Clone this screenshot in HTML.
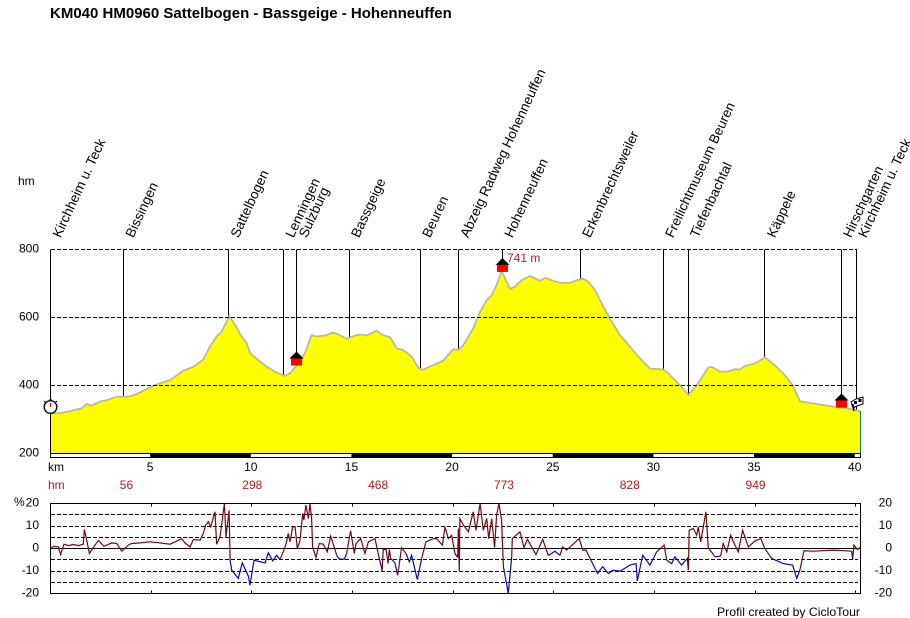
<!DOCTYPE html>
<html lang="de">
<head>
<meta charset="utf-8">
<title>KM040 HM0960 Sattelbogen - Bassgeige - Hohenneuffen</title>
<style>
html,body{margin:0;padding:0;background:#fff;}
svg{display:block;font-family:"Liberation Sans",Arial,sans-serif;}
text{fill:#000;font-size:12px;}
.red{fill:#b01c1c;}
</style>
</head>
<body>
<svg id="chart" xmlns="http://www.w3.org/2000/svg" width="910" height="618" viewBox="0 0 910 618">
  <rect x="0" y="0" width="910" height="618" fill="#fff"/>
  <text x="50" y="18" style="font-size:15px;font-weight:bold">KM040 HM0960 Sattelbogen - Bassgeige - Hohenneuffen</text>
  <text x="18" y="185">hm</text>
  <text x="48" y="471">km</text>
  <text class="red" x="48" y="489">hm</text>
  <text x="14" y="506">%</text>
  <text x="860" y="616" text-anchor="end" style="font-size:12.25px">Profil created by CicloTour</text>
  <g id="elev"></g>
  <g id="grad"></g>
</svg>
<script>
// ---- data ----
const elevKm = [0,0.55,1.05,1.55,1.80,2.04,2.46,2.87,3.29,3.87,4.28,4.78,5.27,5.94,6.60,7.10,7.59,7.92,8.25,8.50,8.88,9.25,9.45,9.75,9.91,10.32,10.74,11.23,11.65,11.90,12.15,12.39,12.64,12.97,13.22,13.64,14.05,14.38,14.71,15.13,15.46,15.71,16.20,16.53,16.87,17.20,17.53,17.94,18.27,18.47,19.02,19.51,20.01,20.26,20.51,21.00,21.34,21.67,21.92,22.16,22.41,22.58,22.83,23.07,23.41,23.82,24.32,24.57,24.98,25.31,25.81,26.14,26.47,26.72,27.05,27.30,27.79,28.29,28.79,29.20,29.78,30.44,30.69,31.27,31.69,32.10,32.68,32.84,33.26,33.67,34.00,34.25,34.50,35.00,35.49,35.91,36.40,36.87,37.23,37.90,38.89,39.56,40.21];
const elevM = [318,319,326,333,346,341,353,358,367,367,375,390,403,416,444,455,477,514,544,558,604,571,548,524,496,475,455,438,428,436,453,470,495,548,544,547,556,548,537,547,550,547,561,548,542,509,504,485,452,446,460,473,507,504,519,568,617,651,666,696,738,715,684,691,710,722,708,717,708,702,702,710,714,705,681,651,597,548,514,485,450,447,436,401,372,401,453,455,441,441,448,447,458,465,483,463,436,401,354,347,338,333,325];

const gradKm = [0.01,0.14,0.39,0.50,0.67,0.89,1.13,1.38,1.63,1.68,1.76,1.93,2.09,2.38,2.66,3.04,3.29,3.54,3.87,4.03,4.45,4.94,5.44,5.94,6.52,6.68,6.93,7.10,7.43,7.51,7.59,7.71,7.84,7.96,8.17,8.25,8.42,8.50,8.64,8.72,8.87,8.92,9.00,9.33,9.53,9.83,9.91,10.11,10.66,10.82,11.04,11.23,11.40,11.60,11.73,11.81,11.90,12.03,12.15,12.26,12.39,12.53,12.59,12.69,12.81,12.89,12.97,13.02,13.19,13.35,13.55,13.75,13.92,14.22,14.35,14.60,14.71,14.91,15.09,15.18,15.41,15.62,15.79,16.12,16.28,16.48,16.53,16.67,16.77,16.83,16.90,17.11,17.25,17.44,17.66,17.83,17.94,18.22,18.44,18.65,19.02,19.18,19.47,19.60,19.76,19.93,20.09,20.23,20.26,20.31,20.34,20.51,20.76,21.00,21.14,21.34,21.50,21.67,21.77,21.92,22.06,22.16,22.28,22.41,22.50,22.74,22.91,22.94,23.32,23.52,23.69,24.12,24.45,24.73,25.06,25.31,25.44,25.64,26.27,26.44,26.60,26.80,27.18,27.30,27.43,27.71,27.96,28.29,28.79,29.09,29.15,29.42,29.78,30.11,30.48,30.61,30.86,31.02,31.35,31.64,31.69,31.73,31.93,32.10,32.18,32.30,32.43,32.56,32.68,33.01,33.29,33.42,33.59,33.79,33.92,34.17,34.38,34.67,35.00,35.28,35.49,35.82,36.40,36.87,37.07,37.23,37.43,37.90,38.89,39.80,39.85,39.91,40.08,40.21];
const gradPct = [0,1.0,0.7,-2.7,1.9,1.3,1.8,1.3,1.9,8.4,5.5,-2.2,0,3.6,1.0,2.5,2.2,-1.2,1.5,2.2,2.5,3.0,2.5,1.9,4.4,2.5,0.7,4.0,3.7,5.2,6.7,10.4,11.9,9.6,16.3,1.9,5.2,10.4,20,5.2,17.0,-5.2,-9.6,-13.3,-6.4,-12.3,-16.3,-5.2,-6.4,-1.9,-5.5,-3.0,-4.9,-0.7,3.0,6.7,3.0,9.6,9.6,0,3.3,15.6,12.6,19.3,13.3,20,13.3,0.7,-4.0,2.2,1.9,-1.5,5.5,-3.0,-4.7,-4.7,-2.2,7.9,-2.2,2.2,4.4,-2.2,3.0,4.4,-2.2,-9.9,-0.4,-0.4,-6.7,-0.4,-4.4,-6.4,-11.9,0.4,-2.2,-5.9,-3.0,-13.8,-4.4,3.0,4.4,4.4,1.5,9.6,4.4,5.9,-2.2,-4.0,8.9,-9.9,13.3,10.4,7.4,16.3,8.1,20,8.1,13.3,4.4,13.3,0.4,14.8,20,12.6,-8.1,-20,-3.7,4.4,7.4,0.4,4.1,-2.7,4.1,-3.1,-1.2,-3.0,0.7,-0.7,4.4,-0.7,-0.7,-4.4,-11.1,-9.6,-8.1,-11.1,-9.6,-10.1,-7.4,-6.7,-14.4,-3.0,-7.4,-1.5,1.5,-5.2,-6.7,-3.7,-7.4,-4.4,-9.6,8.1,8.9,5.9,9.6,3.0,9.6,16.3,0.4,-3.7,-3.4,2.2,-1.5,5.9,3.0,-1.5,8.1,0.7,3.4,4.4,0,-4.4,-6.7,-7.4,-13.3,-9.6,-1.0,-1.2,-0.7,-1.2,-4.9,1.5,-0.4,0.4];

const waypointNames = ["Kirchheim u. Teck","Bissingen","Sattelbogen","Lenningen","Sulzburg","Bassgeige","Beuren","Abzeig Radweg Hohenneuffen","Hohenneuffen","Erkenbrechtsweiler","Freilichtmuseum Beuren","Tiefenbachtal","Käppele","Hirschgarten","Kirchheim u. Teck"];
const waypointKm = [0,3.62,8.84,11.57,12.23,14.83,18.36,20.25,22.44,26.31,30.43,31.67,35.49,39.27,40.02];
const hutKm = [12.23,22.44,39.27];
const elevTicks = [200,400,600,800];
const elevGridTicks = [400,600,800];
const kmTicks = [5,10,15,20,25,30,35,40];
const climbKm = [3.75,10,16.25,22.5,28.75,35];
const climbValues = [56,298,468,773,828,949];
const gradLabelTicks = [20,10,0,-10,-20];
const gradGridTicks = [15,10,5,-5,-10,-15];
const peakLabel = "741 m";
const totalKm = 40.2;

// ---- axis functions ----
const xOf = km => 50.5 + km * 20.13;
const yOf = m => 249.5 + (800 - m) * 0.34;
const gyOf = p => 548.5 - p * 2.25;
const crisp = v => Math.floor(v) + 0.5;
const plotRight = crisp(xOf(totalKm) + 0.5);

const NS = "http://www.w3.org/2000/svg";
function mk(parent, tag, attrs, txt) {
  const el = document.createElementNS(NS, tag);
  for (const k in attrs) el.setAttribute(k, attrs[k]);
  if (txt !== undefined) el.textContent = txt;
  parent.appendChild(el);
  return el;
}
function elevAt(km) {
  for (let i = 1; i < elevKm.length; i++) {
    if (km <= elevKm[i]) {
      const t = (km - elevKm[i-1]) / (elevKm[i] - elevKm[i-1]);
      return elevM[i-1] + t * (elevM[i] - elevM[i-1]);
    }
  }
  return elevM[elevM.length - 1];
}
const elevG = document.getElementById("elev");
const gradG = document.getElementById("grad");
const base = 453.5;

// waypoint lines (under the profile)
waypointKm.forEach((km, i) => {
  const isHut = hutKm.includes(km);
  const bottom = i === 0 ? base : (isHut ? yOf(elevAt(km)) - 12 : yOf(elevAt(km)));
  const l = mk(elevG, "line", {x1: crisp(xOf(km)), x2: crisp(xOf(km)), y1: 249.5, y2: bottom, stroke: "#000", "stroke-width": 1});
  
  
  const t = mk(elevG, "text", {transform: `translate(${xOf(km) + 10},238.5) rotate(-65)`, style: "font-size:13.6px"}, waypointNames[i]);
  
  
});

// profile area
const pts = elevKm.map((k, i) => `${xOf(k).toFixed(1)},${yOf(elevM[i]).toFixed(1)}`);
const area = mk(elevG, "polygon", {points: `${xOf(elevKm[0])},${base} ${pts.join(" ")} ${plotRight},${yOf(elevM[elevM.length-1]).toFixed(1)} ${plotRight},${base}`, fill: "#ffff00"});


const outline = mk(elevG, "polyline", {points: pts.join(" "), fill: "none", stroke: "#b6b6b6", "stroke-width": 1.8});



const leftAxis = mk(elevG, "line", {x1: 50.5, x2: 50.5, y1: 249.5, y2: base, stroke: "#000"});


const endEdge = mk(elevG, "line", {x1: plotRight, x2: plotRight, y1: yOf(elevM[elevM.length-1]), y2: base, stroke: "#0a7a6a"});



// elevation grid
elevGridTicks.forEach(m => {
  const g = mk(elevG, "line", {x1: 51, x2: 857, y1: yOf(m), y2: yOf(m), stroke: "#000", "stroke-dasharray": "4 2"});
  
  
});
elevTicks.forEach(m => {
  const t = mk(elevG, "text", {x: 39, y: yOf(m) + 3, "text-anchor": "end"}, String(m));
  
  
});

// km scale bar
const bar = mk(elevG, "rect", {x: 50.5, y: base, width: plotRight - 50.5, height: 4, fill: "#fff", stroke: "#000"});


kmTicks.forEach((k, i) => {
  if (i % 2 === 0) {
    const s = mk(elevG, "rect", {x: xOf(k) - 1, y: base, width: xOf(kmTicks[i+1]) - xOf(k), height: 4, fill: "#000"});
    
    
  }
  const t = mk(elevG, "text", {x: xOf(k) - 1, y: 471, "text-anchor": "middle"}, String(k));
  
  
});

// cumulative climb row
climbValues.forEach((v, i) => {
  const t = mk(elevG, "text", {x: xOf(climbKm[i]) + 0.5, y: 489, "text-anchor": "middle", class: "red"}, String(v));
  
  
});

// huts
hutKm.forEach(km => {
  const cx = crisp(xOf(km)), by = yOf(elevAt(km));
  const r = mk(elevG, "rect", {x: cx - 5.5, y: by - 7, width: 11, height: 7, fill: "#ff0000"});
  
  
  const p = mk(elevG, "polygon", {points: `${cx},${by - 14} ${cx + 7},${by - 7} ${cx - 7},${by - 7}`, fill: "#000"});
  
  
});
const peak = mk(elevG, "text", {x: 507, y: 262, class: "red"}, peakLabel);



// start stopwatch
const sw = mk(elevG, "g", {});


mk(sw, "circle", {cx: 50.5, cy: 407, r: 6.3, fill: "#fff", stroke: "#000", "stroke-width": 1.4});
mk(sw, "line", {x1: 50.5, x2: 50.5, y1: 399, y2: 401, stroke: "#000", "stroke-width": 2});
mk(sw, "line", {x1: 50.5, x2: 50.5, y1: 403, y2: 407, stroke: "#d00", "stroke-width": 1});
mk(sw, "line", {x1: 44, x2: 46, y1: 401, y2: 403, stroke: "#000"});
mk(sw, "line", {x1: 57, x2: 55, y1: 401, y2: 403, stroke: "#000"});

// finish flag
const fl = mk(elevG, "g", {});


mk(fl, "polygon", {points: "851,402 856,399 863,397 863,404 857,406 853,408", fill: "#fff", stroke: "#000"});
mk(fl, "rect", {x: 854, y: 401, width: 3, height: 3, fill: "#000"});
mk(fl, "rect", {x: 858.5, y: 399, width: 3, height: 3, fill: "#000"});
mk(fl, "line", {x1: 853, x2: 854, y1: 404, y2: 411, stroke: "#000", "stroke-width": 1.4});

// ---- gradient chart ----
const gTop = gyOf(20), gBot = gyOf(-20);
gradGridTicks.forEach(p => {
  const g = mk(gradG, "line", {x1: 51, x2: 858, y1: crisp(gyOf(p)), y2: crisp(gyOf(p)), stroke: "#000", "stroke-dasharray": "4 2"});
  
  
});
const zero = mk(gradG, "line", {x1: 50.5, x2: plotRight, y1: gyOf(0), y2: gyOf(0), stroke: "#000", "stroke-width": 1});



// series split into coloured runs
function isBlue(i) { return gradPct[i] < -1 && gradPct[i+1] < -1; }
let runStart = 0;
for (let i = 0; i < gradPct.length - 1; i++) {
  if (i === gradPct.length - 2 || isBlue(i + 1) !== isBlue(i)) {
    const p = [];
    for (let j = runStart; j <= i + 1; j++) p.push(`${xOf(gradKm[j]).toFixed(1)},${gyOf(gradPct[j]).toFixed(1)}`);
    const run = mk(gradG, "polyline", {points: p.join(" "), fill: "none", stroke: isBlue(i) ? "#0808a0" : "#6e0a12", "stroke-width": 1.2});
    
    
    runStart = i + 1;
  }
}

const frame = mk(gradG, "rect", {x: 50.5, y: gTop, width: plotRight - 50.5, height: gBot - gTop, fill: "none", stroke: "#000"});


kmTicks.forEach(k => {
  const a = mk(gradG, "line", {x1: crisp(xOf(k)), x2: crisp(xOf(k)), y1: gTop, y2: gTop + 3, stroke: "#000"});
  
  
  const b = mk(gradG, "line", {x1: crisp(xOf(k)), x2: crisp(xOf(k)), y1: gBot - 3, y2: gBot, stroke: "#000"});
  
  
});
gradLabelTicks.forEach(p => {
  const l = mk(gradG, "text", {x: 39, y: gyOf(p) + 3, "text-anchor": "end"}, String(p));
  
  
  const r = mk(gradG, "text", {x: 892, y: gyOf(p) + 3, "text-anchor": "end"}, String(p));
  
  
});
</script>
</body>
</html>
